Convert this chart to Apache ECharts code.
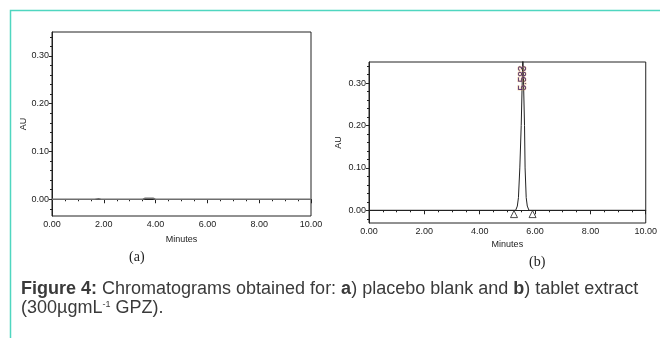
<!DOCTYPE html>
<html>
<head>
<meta charset="utf-8">
<script src="https://cdn.jsdelivr.net/npm/echarts@6/dist/echarts.min.js"></script>
<style>
    html, body { margin: 0; padding: 0; background: #fff; }
    #chart { width: 660px; height: 338px; }
</style>
</head>
<body>
<div id="chart"></div>
<script>
// (a) placebo blank: flat baseline with two tiny bumps
const blankTrace = [
    [0, 0], [1.65, 0], [1.72, 0.002], [1.8, 0.001], [1.9, 0], [3.5, 0],
    [3.6, 0.002], [3.9, 0.002], [4.0, 0], [10, 0]
];
// (b) tablet extract: single peak at 5.583 min
const tabletTrace = [
    [0, 0], [5.3, 0], [5.36, 0.01], [5.40, 0.03], [5.45, 0.1], [5.50, 0.2],
    [5.56, 0.37], [5.60, 0.37], [5.62, 0.2], [5.64, 0.1], [5.68, 0.03],
    [5.72, 0.01], [5.78, 0], [10, 0]
];
const peakMarks = [[5.24, -0.009], [5.91, -0.009]];
const peakLabel = { rt: 5.583, y: 0.312 };

// y axis ticks
const yMajor = [0, 0.1, 0.2, 0.3];
const yMinor = [-0.02, 0.02, 0.04, 0.06, 0.08, 0.12, 0.14, 0.16, 0.18,
                0.22, 0.24, 0.26, 0.28, 0.32, 0.34];

const font = "'Liberation Sans Narrow', 'Liberation Sans', Arial, sans-serif";
const capFont = "'Liberation Sans', Arial, sans-serif";
const chart = echarts.init(document.getElementById('chart'));

function xAxisFor(idx, gap) {
    return {
        gridIndex: idx,
        type: 'value',
        min: 0,
        max: 10,
        interval: 2,
        name: 'Minutes',
        nameLocation: 'middle',
        nameGap: gap,
        nameTextStyle: { fontFamily: font, fontSize: 9, color: '#222' },
        axisLine: { lineStyle: { color: '#222' } },
        axisTick: { length: 4, lineStyle: { color: '#222' } },
        minorTick: { show: true, splitNumber: 4, length: 2, lineStyle: { color: '#222' } },
        axisLabel: {
            fontFamily: font, fontSize: 9, color: '#222', margin: 4,
            formatter: v => v.toFixed(2)
        },
        splitLine: { show: false }
    };
}
function yAxisFor(idx, gap, min) {
    return {
        gridIndex: idx,
        type: 'value',
        min: min,
        max: 0.35,
        name: 'AU',
        nameLocation: 'middle',
        nameRotate: 90,
        nameGap: gap,
        nameTextStyle: { fontFamily: font, fontSize: 9, color: '#222' },
        axisLine: { lineStyle: { color: '#222' } },
        axisTick: { length: 3, customValues: yMajor, lineStyle: { color: '#222' } },
        axisLabel: {
            fontFamily: font, fontSize: 9, color: '#222', margin: 3,
            customValues: yMajor,
            formatter: v => v.toFixed(2)
        },
        splitLine: { show: false }
    };
}
function yMinorFor(idx, min) {
    return {
        gridIndex: idx,
        type: 'value',
        position: 'left',
        min: min,
        max: 0.35,
        axisLine: { show: false },
        axisTick: { length: 2, customValues: yMinor, lineStyle: { color: '#222' } },
        axisLabel: { show: false },
        splitLine: { show: false }
    };
}

chart.setOption({
    animation: false,
    title: {
        left: 16,
        top: 275,
        text: '{b|Figure 4:} Chromatograms obtained for: {b|a}) placebo blank and {b|b}) tablet extract\n(300µgmL{sup|-1} GPZ).',
        textStyle: {
            fontFamily: capFont,
            fontSize: 18,
            fontWeight: 'normal',
            color: '#3a3a3a',
            lineHeight: 19,
            rich: {
                b: { fontFamily: capFont, fontSize: 18, fontWeight: 'bold', color: '#3a3a3a', lineHeight: 19 },
                sup: { fontFamily: capFont, fontSize: 9, color: '#3a3a3a', padding: [0, 0, 8, 0] }
            }
        }
    },
    grid: [
        { left: 52, top: 32, width: 259, height: 184, show: true, borderColor: '#222', borderWidth: 1 },
        { left: 369, top: 62, width: 282, height: 161, show: true, borderColor: '#222', borderWidth: 1 }
    ],
    xAxis: [xAxisFor(0, 19), xAxisFor(1, 17)],
    yAxis: [yAxisFor(0, 24, -0.035), yAxisFor(1, 26, -0.03), yMinorFor(0, -0.035), yMinorFor(1, -0.03)],
    graphic: [
        {
            type: 'polyline',
            shape: { points: [[10.5, 340], [10.5, 10.5], [662, 10.5]] },
            style: { stroke: '#4fd6c0', lineWidth: 1.5, fill: null }
        },
        {
            type: 'text', left: 129, top: 250,
            style: { text: '(a)', fontFamily: "'Liberation Serif', 'Times New Roman', serif", fontSize: 14, fill: '#222' }
        },
        {
            type: 'text', left: 529, top: 255,
            style: { text: '(b)', fontFamily: "'Liberation Serif', 'Times New Roman', serif", fontSize: 14, fill: '#222' }
        }
    ],
    series: [
        {
            type: 'line',
            xAxisIndex: 0, yAxisIndex: 0,
            data: blankTrace,
            symbol: 'none',
            lineStyle: { color: '#6e6e6e', width: 1.5 }
        },
        {
            type: 'line',
            xAxisIndex: 1, yAxisIndex: 1,
            data: tabletTrace,
            symbol: 'none',
            lineStyle: { color: '#222', width: 1 },
            markLine: {
                silent: true,
                symbol: 'none',
                label: { show: false },
                lineStyle: { color: '#222', width: 1, type: 'solid' },
                data: [{ yAxis: 0 }]
            },
            markPoint: {
                silent: true,
                symbol: 'circle',
                symbolSize: 0,
                data: [{ coord: [peakLabel.rt, peakLabel.y] }],
                label: {
                    show: true,
                    formatter: peakLabel.rt.toFixed(3),
                    rotate: 90,
                    position: 'inside',
                    fontFamily: font,
                    fontSize: 10,
                    color: '#4b2c6e',
                    textBorderColor: 'rgba(230,170,100,0.6)',
                    textBorderWidth: 1
                }
            }
        },
        {
            type: 'scatter',
            xAxisIndex: 1, yAxisIndex: 1,
            data: peakMarks,
            symbol: 'triangle',
            symbolSize: 7,
            itemStyle: { color: '#fff', borderColor: '#222', borderWidth: 1 }
        }
    ]
});
</script>
</body>
</html>
